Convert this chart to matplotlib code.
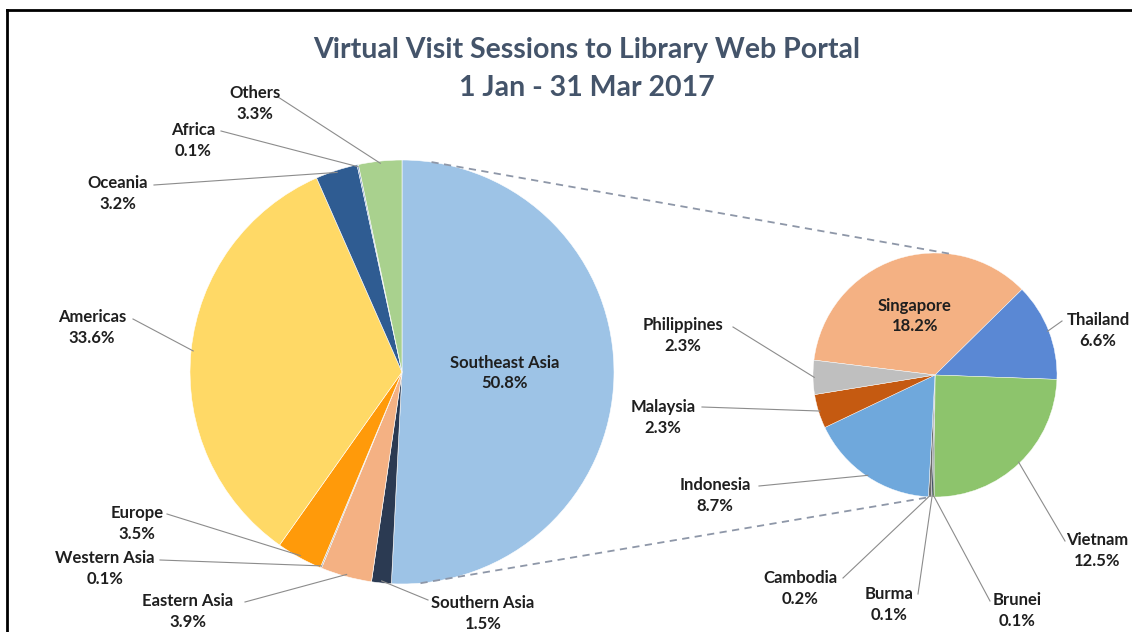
import numpy as np
import matplotlib
matplotlib.use("Agg")
import matplotlib.pyplot as plt

# ---------------- data ----------------
main_labels = ["Southeast Asia", "Southern Asia", "Eastern Asia", "Western Asia",
               "Europe", "Americas", "Oceania", "Africa", "Others"]
main_values = [50.8, 1.5, 3.9, 0.1, 3.5, 33.6, 3.2, 0.1, 3.3]

sub_labels = ["Singapore", "Thailand", "Vietnam", "Brunei", "Burma",
              "Cambodia", "Indonesia", "Malaysia", "Philippines"]
sub_values = [18.2, 6.6, 12.5, 0.1, 0.1, 0.2, 8.7, 2.3, 2.3]

title_lines = ["Virtual Visit Sessions to Library Web Portal", "1 Jan - 31 Mar 2017"]

# ---------------- style ----------------
main_colors = ["#9DC3E6", "#2B3A52", "#F4B183", "#A5A5A5", "#FF9A0A",
               "#FFD966", "#2F5C92", "#5B7FB5", "#A9D18E"]
sub_colors = ["#F4B183", "#5A88D4", "#8DC46C", "#3F6A2C", "#2F3E55",
              "#6B6B6B", "#6FA8DC", "#C55A11", "#BFBFBF"]

W, H = 1132, 632
fig = plt.figure(figsize=(W / 100, H / 100), dpi=100)
ax = fig.add_axes([0, 0, 1, 1])
ax.set_xlim(0, W)
ax.set_ylim(0, H)
ax.set_aspect("equal")
ax.axis("off")

def py(y):  # pixel-from-top to data y
    return H - y

FONT = ["Lato", "DejaVu Sans"]
FS = 12
TXT = "#1F1F1F"
LEAD = "#8C8C8C"

main_c = (402, py(372)); main_r = 212
sub_c = (935, py(375)); sub_r = 122

mw, _ = ax.pie(main_values, colors=main_colors, startangle=90, counterclock=False,
               center=main_c, radius=main_r, frame=True,
               wedgeprops=dict(edgecolor="white", linewidth=0.4))
sw, _ = ax.pie(sub_values, colors=sub_colors, startangle=173, counterclock=False,
               center=sub_c, radius=sub_r, frame=True,
               wedgeprops=dict(edgecolor="white", linewidth=0.3))
ax.set_xlim(0, W); ax.set_ylim(0, H); ax.axis("off")

def edge_pt(wedge, center, r, frac=1.0):
    t = np.deg2rad((wedge.theta1 + wedge.theta2) / 2)
    return center[0] + r * frac * np.cos(t), center[1] + r * frac * np.sin(t)

def pol(center, r, ang):
    t = np.deg2rad(ang)
    return center[0] + r * np.cos(t), center[1] + r * np.sin(t)

# dashed connectors
for a1, a2 in [(82, 81), (-85, -92)]:
    p1 = pol(main_c, main_r, a1); p2 = pol(sub_c, sub_r, a2)
    ax.plot([p1[0], p2[0]], [p1[1], p2[1]], ls=(0, (4, 3)), color="#8E97A8", lw=1.3, zorder=1)

# ---------------- labels ----------------
# (text centre x, y of name line, leader start x, leader start y)
main_pos = {
    "Southeast Asia": None,
    "Southern Asia": (483, 603, 428, 600),
    "Eastern Asia": (188, 601, 245, 602),
    "Western Asia": (105, 558, 160, 560),
    "Europe": (137, 513, 167, 514),
    "Americas": (92, 317, 133, 319),
    "Oceania": (118, 183, 154, 185),
    "Africa": (193, 130, 221, 131),
    "Others": (255, 93, 278, 97),
}
sub_pos = {
    "Singapore": None,
    "Thailand": (1098, 320, 1062, 321),
    "Vietnam": (1097, 540, 1065, 541),
    "Brunei": (1017, 600, 990, 601),
    "Burma": (889, 594, 918, 594),
    "Cambodia": (800, 578, 843, 578),
    "Indonesia": (715, 485, 759, 486),
    "Malaysia": (663, 407, 702, 407),
    "Philippines": (683, 325, 733, 327),
}

def place(wedges, labels, values, pos, center, r, inside_xy):
    for w, lab, v in zip(wedges, labels, values):
        p = pos[lab]
        if p is None:
            x, y = inside_xy
            ax.text(x, py(y), f"{lab}\n{v:.1f}%", ha="center", va="center",
                    fontsize=FS, fontweight="bold", color=TXT, family=FONT,
                    linespacing=1.25, zorder=5)
            continue
        tx, ty, lx, ly = p
        ax.text(tx, py(ty), lab, ha="center", va="center", fontsize=FS,
                fontweight="bold", color=TXT, family=FONT, zorder=5)
        ax.text(tx, py(ty + 21), f"{v:.1f}%", ha="center", va="center", fontsize=FS,
                fontweight="bold", color=TXT, family=FONT, zorder=5)
        ex, ey = edge_pt(w, center, r, 0.99)
        ax.plot([lx, ex], [py(ly), ey], color=LEAD, lw=0.8, zorder=4)

place(mw, main_labels, main_values, main_pos, main_c, main_r, (505, 373))
place(sw, sub_labels, sub_values, sub_pos, sub_c, sub_r, (915, 316))

# title
ax.text(587, py(50), title_lines[0], ha="center", va="center", fontsize=20.5,
        fontweight="bold", color="#44546A", family=FONT)
ax.text(587, py(88), title_lines[1], ha="center", va="center", fontsize=20.5,
        fontweight="bold", color="#44546A", family=FONT)

# frame (top and left edges of the chart border)
ax.plot([7, W], [py(10), py(10)], color="black", lw=2, zorder=6, clip_on=False)
ax.plot([7, 7], [py(10), 0], color="black", lw=2, zorder=6, clip_on=False)

fig.savefig("out.png", dpi=100)
